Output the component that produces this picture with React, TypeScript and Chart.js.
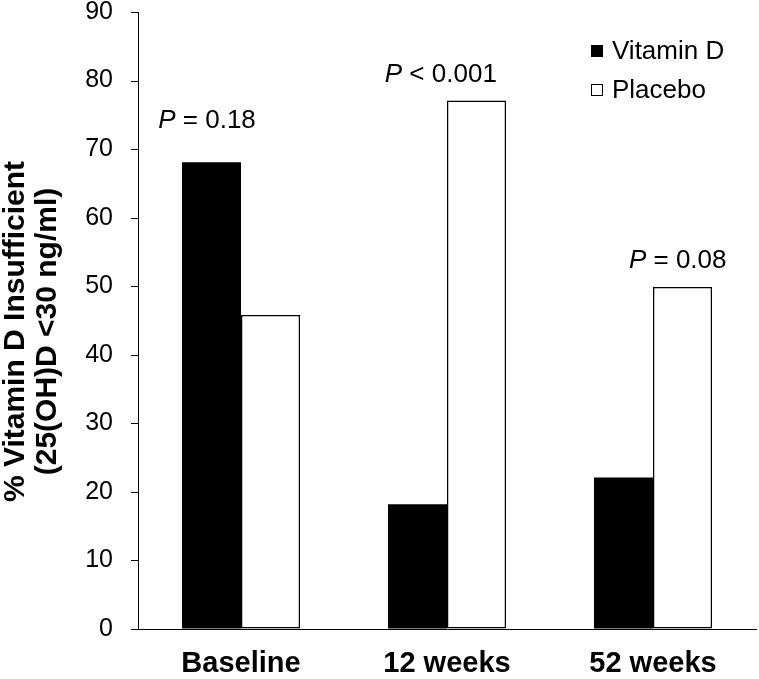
import React, { useEffect, useRef } from "react";
import { Chart, registerables } from "chart.js";

Chart.register(...registerables);

const categories = ["Baseline", "12 weeks", "52 weeks"];
const vitaminD = [68.1, 18.2, 22.1];
const placebo = [45.8, 77.1, 49.9];
const seriesNames = ["Vitamin D", "Placebo"];
const yTicks = [0, 10, 20, 30, 40, 50, 60, 70, 80, 90];
const pValues = ["= 0.18", "< 0.001", "= 0.08"];
const pAnchorY = [73.1, 79.8, 52.7];
const pOffsetX = [-0.165, -0.03, 0.12];
const yTitle = ["% Vitamin D Insufficient", "(25(OH)D <30 ng/ml)"];

const FONT = "'Liberation Sans', Arial, Helvetica, sans-serif";

const annotationPlugin = {
  id: "annot",
  afterDraw(chart: any) {
    const ctx = chart.ctx;
    const xs = chart.scales.x;
    const ys = chart.scales.y;
    const catW = xs.width / categories.length;
    ctx.save();
    // y tick marks (short, outside)
    ctx.strokeStyle = "#000";
    ctx.lineWidth = 1;
    ys.ticks.forEach((t: any) => {
      const py = Math.round(ys.getPixelForValue(t.value)) + 0.5;
      ctx.beginPath();
      ctx.moveTo(ys.right - 7, py);
      ctx.lineTo(ys.right, py);
      ctx.stroke();
    });
    // y axis title (two bold lines, rotated)
    ctx.fillStyle = "#000";
    ctx.font = `bold 30px ${FONT}`;
    ctx.textAlign = "center";
    ctx.textBaseline = "middle";
    const titleCenterY = (ys.top + ys.bottom) / 2 + 11;
    yTitle.forEach((line, i) => {
      ctx.save();
      ctx.translate(16 + i * 32, titleCenterY);
      ctx.rotate(-Math.PI / 2);
      ctx.fillText(line, 0, 0);
      ctx.restore();
    });
    // p-value annotations
    ctx.textBaseline = "alphabetic";
    pValues.forEach((txt, i) => {
      const cx = xs.getPixelForValue(i) + pOffsetX[i] * catW;
      const y = ys.getPixelForValue(pAnchorY[i]);
      ctx.font = `italic 26px ${FONT}`;
      const pw = ctx.measureText("P").width;
      ctx.font = `26px ${FONT}`;
      const rest = " " + txt;
      const rw = ctx.measureText(rest).width;
      const x0 = cx - (pw + rw) / 2;
      ctx.font = `italic 26px ${FONT}`;
      ctx.textAlign = "left";
      ctx.fillText("P", x0, y);
      ctx.font = `26px ${FONT}`;
      ctx.fillText(rest, x0 + pw, y);
    });
    // legend
    const lx = 591;
    const rows = [51, 90];
    ctx.font = `26px ${FONT}`;
    ctx.textBaseline = "middle";
    ctx.textAlign = "left";
    chart.data.datasets.forEach((ds: any, i: number) => {
      const cy = rows[i];
      ctx.fillStyle = ds.backgroundColor;
      ctx.fillRect(lx, cy - 6, 12, 12);
      ctx.strokeStyle = "#000";
      ctx.lineWidth = 1;
      ctx.strokeRect(lx + 0.5, cy - 5.5, 11, 11);
      ctx.fillStyle = "#000";
      ctx.fillText(ds.label, lx + 21, cy + 1);
    });
    ctx.restore();
  },
};

export default function App() {
  const ref = useRef<HTMLCanvasElement>(null);
  useEffect(() => {
    if (!ref.current) return;
    const chart = new Chart(ref.current, {
      type: "bar",
      data: {
        labels: categories,
        datasets: [
          {
            label: seriesNames[0],
            data: vitaminD,
            backgroundColor: "#000000",
            borderColor: "#000000",
            borderWidth: 0,
          },
          {
            label: seriesNames[1],
            data: placebo,
            backgroundColor: "#ffffff",
            borderColor: "#000000",
            borderWidth: 1.5,
            borderSkipped: false,
          },
        ],
      },
      options: {
        responsive: false,
        animation: false,
        layout: { padding: { top: 0, right: 3, left: 0, bottom: 0 } },
        datasets: {
          bar: { categoryPercentage: 0.573, barPercentage: 1 },
        },
        plugins: {
          legend: { display: false },
          tooltip: { enabled: false },
        },
        scales: {
          x: {
            grid: { display: false, drawTicks: false },
            border: { display: true, color: "#000", width: 1 },
            ticks: {
              color: "#000",
              padding: 18,
              font: { family: FONT, size: 29, weight: "bold" },
            },
            afterFit(scale: any) {
              scale.height = 50;
            },
          },
          y: {
            min: 0,
            max: 90,
            afterBuildTicks(scale: any) {
              scale.ticks = yTicks.map((v) => ({ value: v }));
            },
            grid: {
              drawOnChartArea: false,
              drawTicks: true,
              tickLength: 25,
              tickColor: "rgba(0,0,0,0)",
            },
            border: { display: true, color: "#000", width: 1 },
            ticks: {
              color: "#000",
              padding: 0,
              font: { family: FONT, size: 25, lineHeight: 0.96 },
            },
            title: { display: false },
            afterFit(scale: any) {
              scale.width = 138;
            },
          },
        },
      },
      plugins: [annotationPlugin],
    });
    return () => chart.destroy();
  }, []);
  return (
    <div style={{ position: "absolute", left: 0, top: 0, width: 759, height: 679, background: "#fff" }}>
      <canvas ref={ref} width={759} height={679} style={{ display: "block" }} />
    </div>
  );
}
